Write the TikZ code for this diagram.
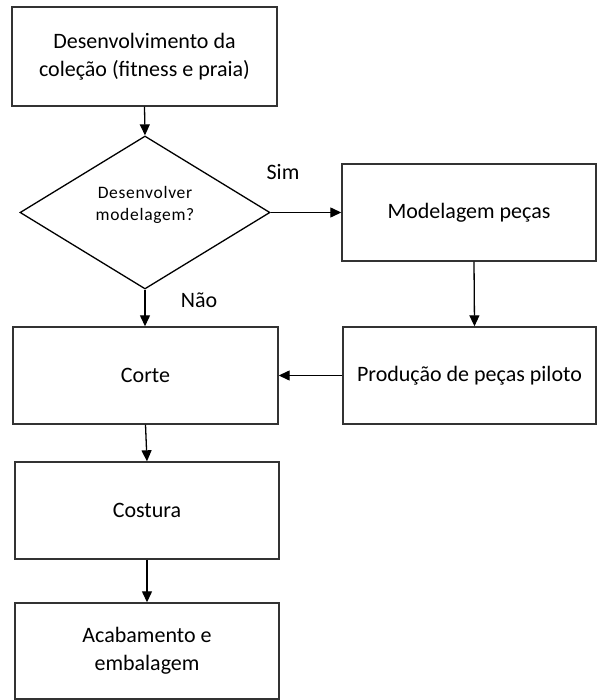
\documentclass[tikz,border=0pt]{standalone}
\usepackage{fontspec}
\setmainfont{Carlito}
\newfontfamily\smallspaced[LetterSpace=4]{Carlito}
\usetikzlibrary{shapes.geometric,arrows.meta}
\begin{document}
\begin{tikzpicture}[x=1pt,y=-1pt,
  box/.style={draw=black!80,line width=1.4pt,rectangle,inner sep=2pt,
    align=center,font=\fontsize{22}{28}\selectfont},
  decision/.style={draw=black,line width=1.3pt,diamond,inner sep=0pt,
    minimum width=250pt,minimum height=153pt},
  dectext/.style={align=center,inner sep=0pt,
    font=\smallspaced\fontsize{17.5}{22}\selectfont},
  arr/.style={draw=black,line width=1.3pt,-{Triangle[length=11pt,width=10pt]}},
  lbl/.style={font=\fontsize{22}{26}\selectfont,inner sep=0pt}]
\useasboundingbox[fill=white] (0,0) rectangle (597,700);

% process boxes and the decision
\node[box,minimum width=265pt,minimum height=99pt] (dev) at (144.5,56.5)
  {Desenvolvimento da\\coleção (fitness e praia)};
\node[decision] (dec) at (145,212.5) {};
\node[dectext] (q) at (145,205) {Desenvolver\\modelagem?};
\node[box,minimum width=254pt,minimum height=97pt] (mod) at (469,212.5)
  {Modelagem peças};
\node[box,minimum width=253pt,minimum height=97pt] (prod) at (469.5,375.5)
  {Produção de peças piloto};
\node[box,minimum width=265pt,minimum height=97pt] (corte) at (145.5,375.5)
  {Corte};
\node[box,minimum width=264pt,minimum height=97pt] (cost) at (147,510.5)
  {Costura};
\node[box,minimum width=264pt,minimum height=96pt] (acab) at (147,651)
  {Acabamento e\\embalagem};

% branch labels
\node[lbl] (sim) at (283,172) {Sim};
\node[lbl] (nao) at (199,300) {Não};

% connectors
\draw[arr] (dev.south) -- (dec.north);
\draw[arr] (dec.east) -- (mod.west);
\draw[arr] ([xshift=5pt]mod.south) -- ([xshift=5pt]prod.north);
\draw[arr] (prod.west) -- (corte.east);
\draw[arr] (dec.south) -- (corte.north -| dec.south);
\draw[arr] (corte.south) -- (cost.north);
\draw[arr] (cost.south) -- (acab.north);
\end{tikzpicture}
\end{document}
